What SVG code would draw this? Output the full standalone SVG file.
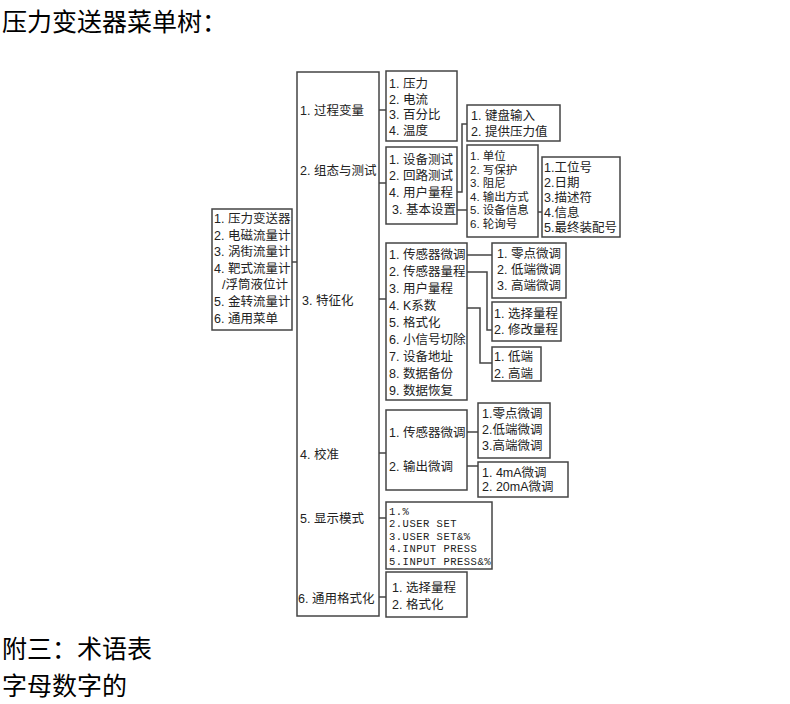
<svg xmlns="http://www.w3.org/2000/svg" width="790" height="704" viewBox="0 0 790 704">
<style>
.h{font-family:"Noto Sans CJK SC","Noto Sans",sans-serif;font-size:25px;fill:#000}
.t{font-family:"Liberation Sans","Noto Sans CJK SC",sans-serif;font-size:12.5px;fill:#222}
.s{font-family:"Liberation Sans","Noto Sans CJK SC",sans-serif;font-size:11.5px;fill:#222}
.m{font-family:"Liberation Mono","Noto Sans CJK SC",monospace;font-size:10.5px;letter-spacing:0.5px;fill:#222}
.b{fill:#fff;stroke:#444;stroke-width:1.5}
.c{fill:none;stroke:#444;stroke-width:1.5}
</style>
<rect width="790" height="704" fill="#fff"/>
<text class="h" x="2" y="31">压力变送器菜单树：</text>
<text class="h" x="2" y="658">附三：术语表</text>
<text class="h" x="2" y="695">字母数字的</text>

<g id="connectors">
<path class="c" d="M292 262H297"/>
<path class="c" d="M379 110H386"/>
<path class="c" d="M379 183H386"/>
<path class="c" d="M379 299H386"/>
<path class="c" d="M379 453H386"/>
<path class="c" d="M379 518H386"/>
<path class="c" d="M379 597H386"/>
<path class="c" d="M457 192H462V124H467"/>
<path class="c" d="M457 210H467"/>
<path class="c" d="M538 212H542"/>
<path class="c" d="M467 255H492"/>
<path class="c" d="M467 272H487V330H492"/>
<path class="c" d="M467 308H480V363H492"/>
<path class="c" d="M467 432H478"/>
<path class="c" d="M467 466H478"/>
</g>

<g id="root">
<rect class="b" x="212" y="209" width="80" height="121"/>
<text class="t" x="214" y="223">1. 压力变送器</text>
<text class="t" x="214" y="240">2. 电磁流量计</text>
<text class="t" x="214" y="256">3. 涡街流量计</text>
<text class="t" x="214" y="273">4. 靶式流量计</text>
<text class="t" x="222" y="289">/浮筒液位计</text>
<text class="t" x="214" y="306">5. 金转流量计</text>
<text class="t" x="214" y="323">6. 通用菜单</text>
</g>

<g id="main">
<rect class="b" x="297" y="72" width="82" height="544"/>
<text class="t" x="300" y="115">1. 过程变量</text>
<text class="t" x="300" y="175">2. 组态与测试</text>
<text class="t" x="302" y="305">3. 特征化</text>
<text class="t" x="300" y="459">4. 校准</text>
<text class="t" x="300" y="523">5. 显示模式</text>
<text class="t" x="298" y="603">6. 通用格式化</text>
</g>

<g id="process">
<rect class="b" x="386" y="71" width="71" height="70"/>
<text class="t" x="389" y="88">1. 压力</text>
<text class="t" x="389" y="104">2. 电流</text>
<text class="t" x="389" y="119">3. 百分比</text>
<text class="t" x="389" y="135">4. 温度</text>
</g>

<g id="config">
<rect class="b" x="386" y="147" width="71" height="77"/>
<text class="t" x="389" y="164">1. 设备测试</text>
<text class="t" x="389" y="180">2. 回路测试</text>
<text class="t" x="389" y="197">4. 用户量程</text>
<text class="t" x="392" y="214">3. 基本设置</text>
</g>

<g id="userrange">
<rect class="b" x="467" y="105" width="93" height="36"/>
<text class="t" x="471" y="120">1. 键盘输入</text>
<text class="t" x="471" y="136">2. 提供压力值</text>
</g>

<g id="basic">
<rect class="b" x="467" y="145" width="71" height="92"/>
<text class="s" x="470" y="160">1. 单位</text>
<text class="s" x="470" y="173.5">2. 写保护</text>
<text class="s" x="470" y="187">3. 阻尼</text>
<text class="s" x="470" y="200.5">4. 输出方式</text>
<text class="s" x="470" y="214">5. 设备信息</text>
<text class="s" x="470" y="227.5">6. 轮询号</text>
</g>

<g id="devinfo">
<rect class="b" x="542" y="157" width="78" height="80"/>
<text class="t" x="544" y="172">1.工位号</text>
<text class="t" x="544" y="187">2.日期</text>
<text class="t" x="544" y="202">3.描述符</text>
<text class="t" x="544" y="217">4.信息</text>
<text class="t" x="544" y="232">5.最终装配号</text>
</g>

<g id="char">
<rect class="b" x="386" y="243" width="81" height="157"/>
<text class="t" x="389" y="259">1. 传感器微调</text>
<text class="t" x="389" y="276">2. 传感器量程</text>
<text class="t" x="389" y="293">3. 用户量程</text>
<text class="t" x="389" y="310">4. K系数</text>
<text class="t" x="389" y="327">5. 格式化</text>
<text class="t" x="389" y="344">6. 小信号切除</text>
<text class="t" x="389" y="361">7. 设备地址</text>
<text class="t" x="389" y="378">8. 数据备份</text>
<text class="t" x="389" y="395">9. 数据恢复</text>
</g>

<g id="trim1">
<rect class="b" x="492" y="243" width="74" height="55"/>
<text class="t" x="497" y="258">1. 零点微调</text>
<text class="t" x="497" y="274">2. 低端微调</text>
<text class="t" x="497" y="290">3. 高端微调</text>
</g>

<g id="range">
<rect class="b" x="492" y="302" width="69" height="39"/>
<text class="t" x="494" y="318">1. 选择量程</text>
<text class="t" x="494" y="334">2. 修改量程</text>
</g>

<g id="kcoef">
<rect class="b" x="492" y="347" width="49" height="34"/>
<text class="t" x="494" y="361">1. 低端</text>
<text class="t" x="494" y="378">2. 高端</text>
</g>

<g id="calib">
<rect class="b" x="386" y="410" width="81" height="80"/>
<text class="t" x="389" y="437">1. 传感器微调</text>
<text class="t" x="389" y="471">2. 输出微调</text>
</g>

<g id="trim2">
<rect class="b" x="478" y="403" width="72" height="55"/>
<text class="t" x="482" y="418">1.零点微调</text>
<text class="t" x="482" y="434">2.低端微调</text>
<text class="t" x="482" y="450">3.高端微调</text>
</g>

<g id="outtrim">
<rect class="b" x="478" y="462" width="90" height="35"/>
<text class="t" x="482" y="477">1. 4mA微调</text>
<text class="t" x="482" y="491">2. 20mA微调</text>
</g>

<g id="display">
<rect class="b" x="386" y="502" width="106" height="67"/>
<text class="m" x="389" y="515">1.%</text>
<text class="m" x="389" y="527">2.USER SET</text>
<text class="m" x="389" y="539.5">3.USER SET&amp;%</text>
<text class="m" x="389" y="552">4.INPUT PRESS</text>
<text class="m" x="389" y="564.5">5.INPUT PRESS&amp;%</text>
</g>

<g id="general">
<rect class="b" x="386" y="572" width="81" height="45"/>
<text class="t" x="392" y="592">1. 选择量程</text>
<text class="t" x="392" y="609">2. 格式化</text>
</g>
</svg>
